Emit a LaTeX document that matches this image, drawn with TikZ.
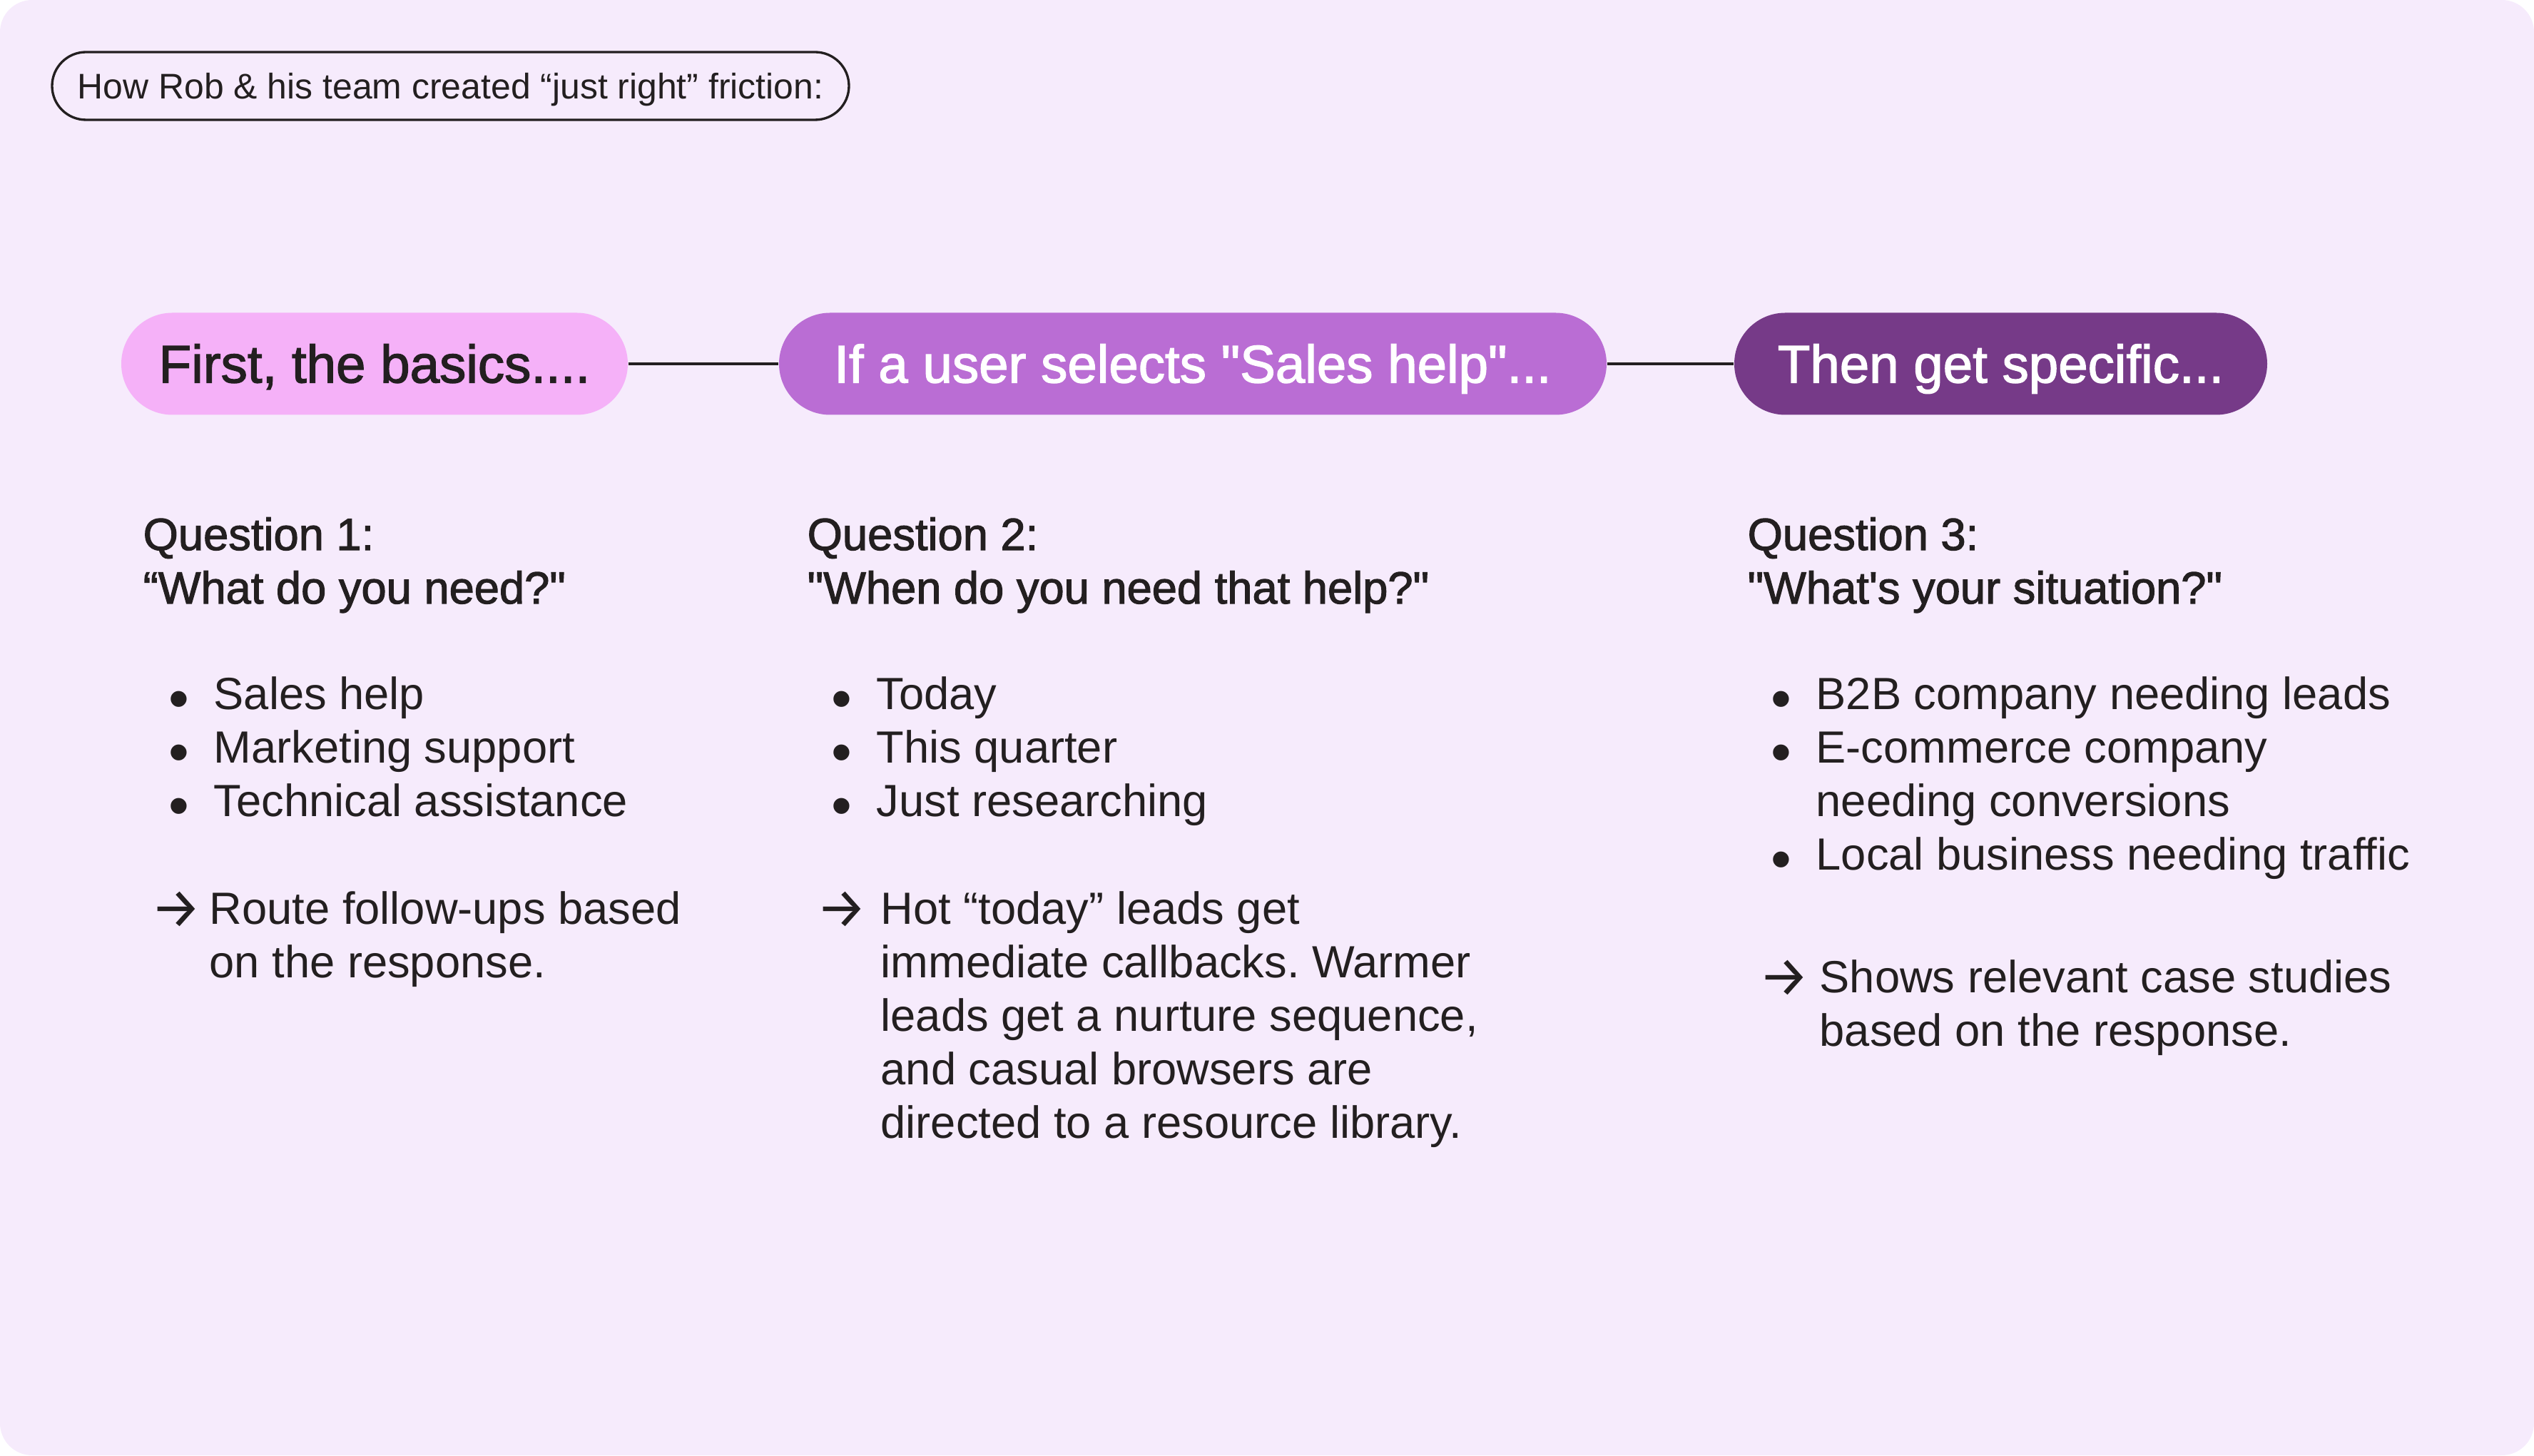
\documentclass[tikz,border=0pt]{standalone}
\usepackage{fontspec}
\setmainfont{Liberation Sans}[Ligatures=TeXOff]
\newfontfamily\mediumfont[FakeBold=1.8]{Liberation Sans}
\newfontfamily\arrowfont{Fira Sans}
\usepackage{xcolor}
\usepackage{tikz}
\definecolor{ink}{RGB}{35,31,32}
\definecolor{canvas}{RGB}{246,235,252}
\definecolor{stepone}{RGB}{245,177,248}
\definecolor{steptwo}{RGB}{186,109,212}
\definecolor{stepthree}{RGB}{118,58,136}
\newcommand{\itemdot}{\raisebox{-3.6pt}{\scalebox{1.3}{\textbullet}}}
\newcommand{\pointer}{\raisebox{-1.2pt}{\scalebox{1.25}{\arrowfont →}}}
\tikzset{
    pill/.style={rectangle, rounded corners=0.715cm, minimum height=1.43cm, inner sep=0pt, text centered, text height=15pt, text depth=0pt, font=\mediumfont\fontsize{21.2}{25}\selectfont},
    tag/.style={rectangle, rounded corners=0.475cm, draw=ink, line width=0.95pt, minimum width=11.17cm, minimum height=0.95cm, inner sep=0pt, text centered, text height=10.2pt, text depth=0pt, text=ink, font=\fontsize{14.2}{17}\selectfont},
    heading/.style={anchor=base west, inner sep=0pt, text=ink, font=\mediumfont\fontsize{18}{21.34}\selectfont},
    body/.style={anchor=base west, inner sep=0pt, text=ink, font=\frenchspacing\fontsize{18}{21.34}\selectfont},
    link/.style={-, line width=1.1pt, draw=ink}
}

\begin{document}
\begin{tikzpicture}
    % Background card
    \fill[canvas, rounded corners=0.45cm] (0,0) rectangle (35.52,20.40);

    % Title tag
    \node[tag] (title) at (6.315,19.195) {How Rob \& his team created “just right” friction:};

    % Steps
    \node[pill, fill=stepone, text=ink, minimum width=7.10cm] (basics) at (5.25,15.30) {First, the basics....};
    \node[pill, fill=steptwo, text=white, minimum width=11.60cm] (sales_help) at (16.72,15.30) {If a user selects "Sales help"...};
    \node[pill, fill=stepthree, text=white, minimum width=7.47cm] (specific) at (28.045,15.30) {Then get specific...};

    % Connections
    \draw[link] (basics) -- (sales_help);
    \draw[link] (sales_help) -- (specific);

    % Question 1
    \node[heading] (q1_head) at (2.00,12.69) {\begin{tabular}[t]{@{}l@{}}Question 1:\\“What do you need?"\end{tabular}};
    \node[body] (q1_list) at (2.36,10.45) {\begin{tabular}[t]{@{}p{0.63cm}@{}l@{}}\itemdot & Sales help\\ \itemdot & Marketing support\\ \itemdot & Technical assistance\end{tabular}};
    \node[body] (q1_note) at (2.11,7.44) {\begin{tabular}[t]{@{}p{0.82cm}@{}l@{}}\pointer & Route follow-ups based\\ & on the response.\end{tabular}};

    % Question 2
    \node[heading] (q2_head) at (11.31,12.69) {\begin{tabular}[t]{@{}l@{}}Question 2:\\"When do you need that help?"\end{tabular}};
    \node[body] (q2_list) at (11.65,10.45) {\begin{tabular}[t]{@{}p{0.63cm}@{}l@{}}\itemdot & Today\\ \itemdot & This quarter\\ \itemdot & Just researching\end{tabular}};
    \node[body] (q2_note) at (11.44,7.44) {\begin{tabular}[t]{@{}p{0.90cm}@{}l@{}}\pointer & Hot “today” leads get\\ & immediate callbacks. Warmer\\ & leads get a nurture sequence,\\ & and casual browsers are\\ & directed to a resource library.\end{tabular}};

    % Question 3
    \node[heading] (q3_head) at (24.49,12.69) {\begin{tabular}[t]{@{}l@{}}Question 3:\\"What's your situation?"\end{tabular}};
    \node[body] (q3_list) at (24.82,10.45) {\begin{tabular}[t]{@{}p{0.63cm}@{}l@{}}\itemdot & B2B company needing leads\\ \itemdot & E-commerce company\\ & needing conversions\\ \itemdot & Local business needing traffic\end{tabular}};
    \node[body] (q3_note) at (24.65,6.48) {\begin{tabular}[t]{@{}p{0.85cm}@{}l@{}}\pointer & Shows relevant case studies\\ & based on the response.\end{tabular}};
\end{tikzpicture}
\end{document}
